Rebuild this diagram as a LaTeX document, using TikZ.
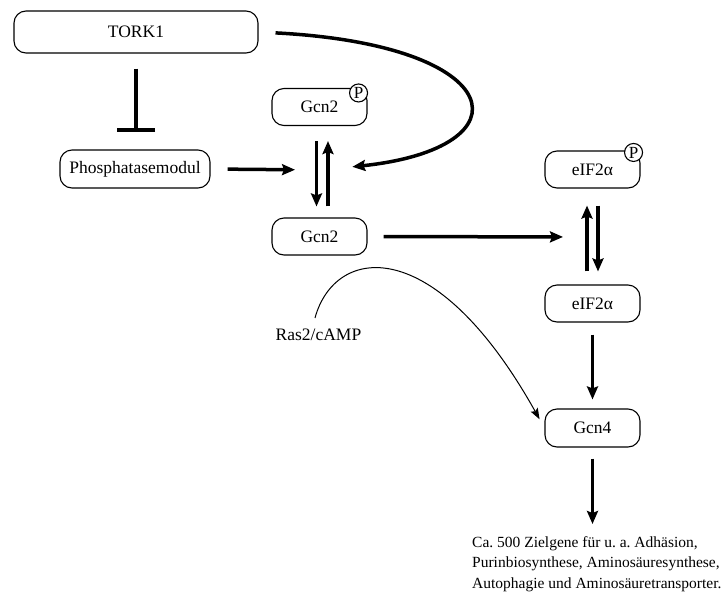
\documentclass[tikz,border=0pt]{standalone}
\usepackage{fontspec}
\setmainfont{Liberation Serif}
\usetikzlibrary{arrows.meta,positioning}
\frenchspacing

\begin{document}
\begin{tikzpicture}[x=1pt, y=-1pt,
    prot/.style={draw, line width=1.1pt, rounded corners=12pt, minimum width=95pt,
        minimum height=37pt, inner sep=2pt, font=\fontsize{17.5}{20}\selectfont},
    phosph/.style={draw, circle, fill=white, line width=1.1pt, minimum size=18pt,
        inner sep=0pt, font=\fontsize{17}{17}\selectfont},
    act/.style={line width=3.5pt, -{Stealth[length=13pt, width=11pt, inset=2pt]}},
    inh/.style={line width=3.5pt, -{Bar[width=38pt, line width=4pt]}},
    weak/.style={line width=1pt, -{Stealth[length=11pt, width=8pt, inset=2pt]}}]

    \useasboundingbox (0,0) rectangle (726,595);

    \node[prot, minimum width=244pt, minimum height=42pt] (tork) at (136, 32) {TORK1};
    \node[prot, minimum width=150pt, minimum height=38pt] (phos) at (135, 169) {Phosphatasemodul};
    \node[prot] (gcnp) at (319.5, 107) {Gcn2};
    \node[prot] (gcn)  at (319.5, 236.5) {Gcn2};
    \node[prot] (eifp) at (592.5, 169.5) {eIF2α};
    \node[prot] (eif)  at (592.5, 303.5) {eIF2α};
    \node[prot, minimum height=38pt] (gcnf) at (592.5, 428) {Gcn4};

    \node[phosph] (gcnpP) at ([xshift=-9pt, yshift=-5pt]gcnp.north east) {P};
    \node[phosph] (eifpP) at ([xshift=-7pt, yshift=-2pt]eifp.north east) {P};

    \node[inner sep=0pt, font=\fontsize{17.5}{20}\selectfont] (ras) at (318.5, 335) {Ras2/cAMP};
    \node[inner sep=0pt, anchor=north west, align=left, font=\fontsize{15.5}{20.5}\selectfont]
        (genes) at (472, 536)
        {Ca. 500 Zielgene für u. a. Adhäsion,\\
         Purinbiosynthese, Aminosäuresynthese,\\
         Autophagie und Aminosäuretransporter.};

    \coordinate (hub)  at (322.5, 170);
    \coordinate (hubb) at (592.5, 237);

    \path[inh]
        (tork.south) edge[shorten <=15pt, shorten >=17pt] (tork.south |- phos.north);

    \path[act]
        (phos.east) edge[shorten <=17pt, shorten >=27.5pt] (hub)

        ([xshift=-3pt]gcnp.south) edge[shorten <=15pt, shorten >=11pt] ([xshift=-3pt]gcn.north)
        ([xshift=8.5pt]gcn.north) edge[shorten <=11pt, shorten >=15pt] ([xshift=8.5pt]gcnp.south)

        (gcn.east) edge[shorten <=16pt, shorten >=29.5pt] (hubb)

        ([xshift=-5.5pt]eif.north) edge[shorten <=13pt, shorten >=17pt] ([xshift=-5.5pt]eifp.south)
        ([xshift=5.5pt]eifp.south) edge[shorten <=17pt, shorten >=13pt] ([xshift=5.5pt]eif.north)

        (eif.south) edge[shorten <=12pt, shorten >=9pt] (gcnf.north)
        (gcnf.south) edge[shorten <=11pt, shorten >=12pt] (gcnf.south |- genes.north);

    \draw[act, shorten <=17pt, shorten >=30pt] (tork.east)
        .. controls (510, 45) and (530, 148) .. (hub);

    \draw[weak, shorten >=10pt] ([xshift=-3.5pt, yshift=11pt]ras.north)
        .. controls (335, 245) and (435, 232) .. (gcnf.west);

\end{tikzpicture}
\end{document}
